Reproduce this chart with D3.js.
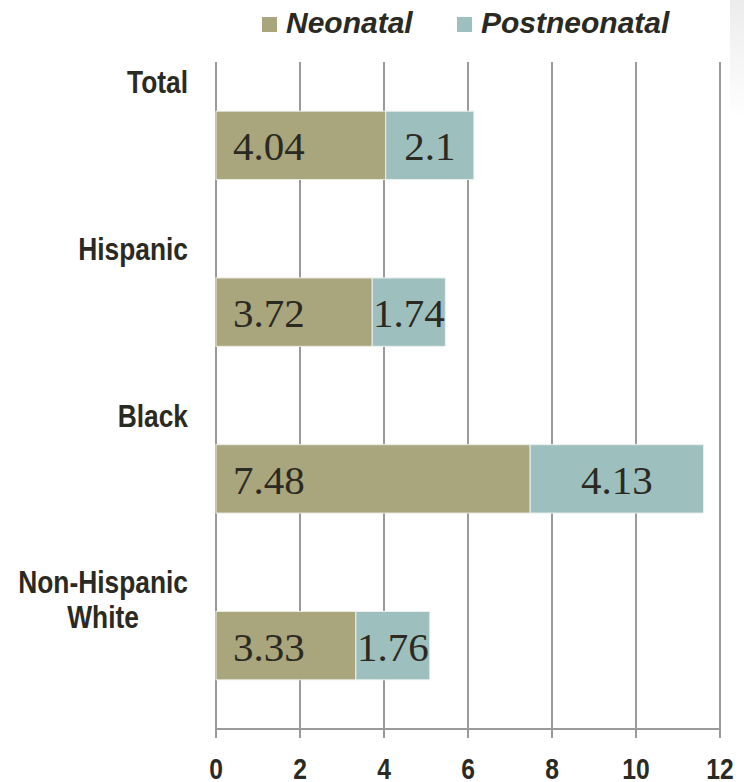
<!DOCTYPE html>
<html>
<head>
<meta charset="utf-8">
<script src="https://cdn.jsdelivr.net/npm/d3@7"></script>
<style>
  html, body { margin: 0; padding: 0; background: #fff; }
  svg { display: block; }
</style>
</head>
<body>
<svg width="744" height="782"></svg>
<script>
// data
const categories = ["Total", "Hispanic", "Black", "Non-Hispanic\nWhite"];
const neonatal = [4.04, 3.72, 7.48, 3.33];
const postneonatal = [2.1, 1.74, 4.13, 1.76];
const seriesNames = ["Neonatal", "Postneonatal"];
const xTicks = [0, 2, 4, 6, 8, 10, 12];

const colors = { Neonatal: "#a9a57c", Postneonatal: "#9dbfbe" };
const textColor = "#2b2a22";
const gridColor = "#9a9a9a";
// no narrow font installed, so squeeze Liberation Sans horizontally
const sansFont = "'Liberation Sans', Arial, sans-serif";
const squeeze = 0.85;

const svg = d3.select("svg");
const margin = { left: 216, right: 24, top: 62, bottom: 53 };
const width = 744, height = 782;

const x = d3.scaleLinear().domain([0, 12]).range([margin.left, width - margin.right]);
const y = d3.scaleBand().domain(categories).range([margin.top, height - margin.bottom]).padding(0);
const barH = y.bandwidth() * 0.41;
const barY = d => y(d) + y.bandwidth() * 0.5 - barH / 2;

// faint grey patch top right
const grad = svg.append("defs").append("linearGradient")
    .attr("id", "edge").attr("x1", 0).attr("x2", 0).attr("y1", 0).attr("y2", 1);
grad.append("stop").attr("offset", 0).attr("stop-color", "#ececec");
grad.append("stop").attr("offset", 1).attr("stop-color", "#ffffff");
svg.append("rect").attr("x", 730).attr("y", 0).attr("width", 14).attr("height", 120).attr("fill", "url(#edge)");

// vertical gridlines (extend a bit below the axis like tick marks)
const axisY = y.range()[1];
svg.append("g").selectAll("line")
    .data(xTicks)
    .join("line")
    .attr("x1", d => x(d)).attr("x2", d => x(d))
    .attr("y1", margin.top).attr("y2", axisY + 9)
    .attr("stroke", gridColor).attr("stroke-width", 2);

svg.append("line")
    .attr("x1", x(0)).attr("x2", x(12))
    .attr("y1", axisY).attr("y2", axisY)
    .attr("stroke", gridColor).attr("stroke-width", 2);

// tick labels
svg.append("g").selectAll("text")
    .data(xTicks)
    .join("text")
    .attr("transform", d => `translate(${x(d)},${axisY + 50}) scale(${squeeze},1)`)
    .attr("text-anchor", "middle")
    .style("font-family", sansFont).style("font-weight", "bold").style("font-size", "29px")
    .attr("fill", textColor)
    .text(d => d);

// bars
const rows = categories.map((c, i) => ({ cat: c, neo: neonatal[i], post: postneonatal[i] }));

const bars = svg.append("g");
bars.selectAll(".neo")
    .data(rows)
    .join("rect")
    .attr("class", "neo")
    .attr("x", x(0)).attr("y", d => barY(d.cat))
    .attr("width", d => x(d.neo) - x(0)).attr("height", barH)
    .attr("fill", colors.Neonatal).attr("stroke", "#ecece4").attr("stroke-width", 1);

bars.selectAll(".post")
    .data(rows)
    .join("rect")
    .attr("class", "post")
    .attr("x", d => x(d.neo)).attr("y", d => barY(d.cat))
    .attr("width", d => x(d.neo + d.post) - x(d.neo)).attr("height", barH)
    .attr("fill", colors.Postneonatal).attr("stroke", "#ecf0f0").attr("stroke-width", 1);

// value labels
const valFont = "'Liberation Serif', 'Times New Roman', serif";
bars.selectAll(".neoLbl")
    .data(rows)
    .join("text")
    .attr("x", x(0) + 17).attr("y", d => barY(d.cat) + barH / 2 + 15)
    .style("font-family", valFont).style("font-size", "41px")
    .attr("fill", textColor)
    .text(d => d.neo);

bars.selectAll(".postLbl")
    .data(rows)
    .join("text")
    .attr("x", d => (x(d.neo) + x(d.neo + d.post)) / 2).attr("y", d => barY(d.cat) + barH / 2 + 15)
    .attr("text-anchor", "middle")
    .style("font-family", valFont).style("font-size", "41px")
    .attr("fill", textColor)
    .text(d => d.post);

// category labels: block right-aligned at 188, lines centred inside block
const catG = svg.append("g");
categories.forEach(c => {
    const lines = c.split("\n");
    const t = catG.append("text")
        .style("font-family", sansFont).style("font-weight", "bold").style("font-size", "31px")
        .attr("fill", textColor)
        .attr("text-anchor", "middle");
    lines.forEach((l, i) => {
        t.append("tspan").attr("x", 0).attr("y", i * 35).text(l);
    });
    const w = d3.max(t.selectAll("tspan").nodes(), n => n.getComputedTextLength()) * squeeze;
    t.attr("transform", `translate(${188 - w / 2},${y(c) + 31}) scale(${squeeze},1)`);
});

// legend
const legend = svg.append("g");
const legX = [262, 457];
seriesNames.forEach((s, i) => {
    legend.append("rect")
        .attr("x", legX[i]).attr("y", 17).attr("width", 15).attr("height", 15)
        .attr("fill", colors[s]);
    legend.append("text")
        .attr("x", legX[i] + 24).attr("y", 33)
        .style("font-family", sansFont)
        .style("font-weight", "bold").style("font-style", "italic").style("font-size", "30px")
        .attr("fill", textColor)
        .text(s);
});
</script>
</body>
</html>
